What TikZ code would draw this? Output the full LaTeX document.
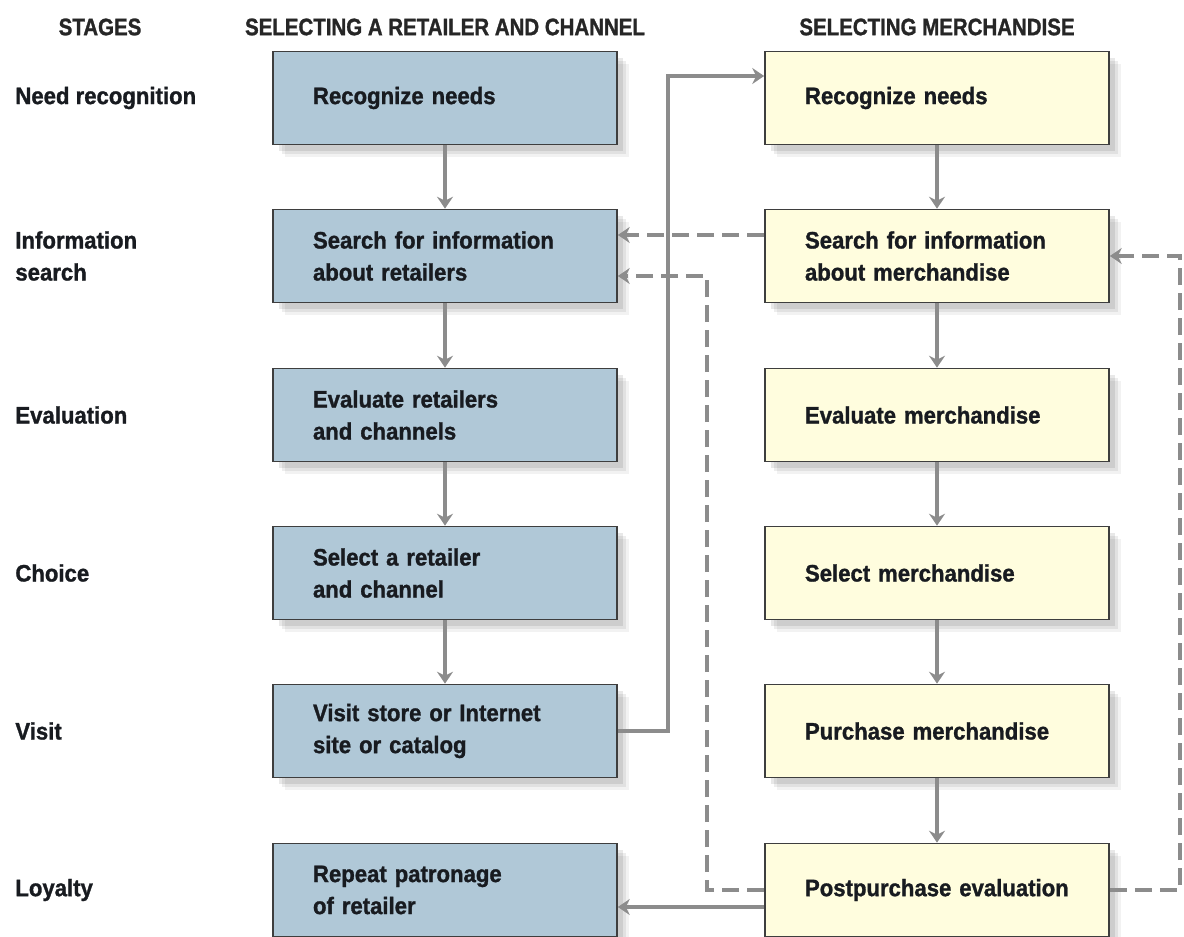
\documentclass[tikz,border=0pt]{standalone}
\usepackage{fontspec}
\setmainfont{Liberation Sans}[FakeStretch=0.93,BoldFeatures={FakeBold=1.2}]
\newfontfamily\headfont{Liberation Sans}[FakeStretch=0.86,BoldFeatures={FakeBold=1.2}]
\usetikzlibrary{arrows.meta}
\usetikzlibrary{shadows}
\definecolor{retblue}{RGB}{176,200,215}
\definecolor{merchyel}{RGB}{255,253,222}
\definecolor{boxline}{RGB}{62,62,62}
\definecolor{arrgray}{RGB}{140,140,140}
\definecolor{inkdark}{RGB}{24,27,32}
\tikzset{stepbox/.style={draw=boxline, line width=0.8pt, minimum height=46.5pt,
   inner xsep=20pt, inner ysep=0pt, text width=132pt, align=left, text=inkdark,
   font=\fontsize{11.9}{16}\selectfont\bfseries,
   drop shadow={shadow xshift=6pt, shadow yshift=-6pt, opacity=0.05, fill=black},
   drop shadow={shadow xshift=4.5pt, shadow yshift=-4.5pt, opacity=0.07, fill=black},
   drop shadow={shadow xshift=3pt, shadow yshift=-3pt, opacity=0.09, fill=black}},
 retbox/.style={stepbox, fill=retblue},
 merbox/.style={stepbox, fill=merchyel},
 stagelbl/.style={anchor=west, align=left, inner sep=0pt, text=inkdark,
   font=\fontsize{11.9}{16}\selectfont\bfseries},
 colhead/.style={font=\headfont\fontsize{11.9}{14}\selectfont\bfseries, text=black!85},
 flowarr/.style={draw=arrgray, line width=2pt, -{Stealth[length=6pt,width=8pt,inset=2pt]}},
 fbarr/.style={flowarr, dash pattern=on 8.5pt off 4pt},
 }

\begin{document}
\begin{tikzpicture}[x=0.5pt,y=-0.5pt]
    \useasboundingbox (0,0) rectangle (1184,937);
    % column heads
    \node[colhead] (hstage) at (100,27) {STAGES};
    \node[colhead] (hret) at (445,27) {SELECTING A RETAILER AND CHANNEL};
    \node[colhead] (hmer) at (937,27) {SELECTING MERCHANDISE};
    % stages
    \node[stagelbl] (s1) at (15,98) {Need recognition};
    \node[stagelbl] (s2) at (15,256) {Information\\search};
    \node[stagelbl] (s3) at (15,415) {Evaluation};
    \node[stagelbl] (s4) at (15,573) {Choice};
    \node[stagelbl] (s5) at (15,731) {Visit};
    \node[stagelbl] (s6) at (15,890) {Loyalty};
    % retailer and channel
    \node[retbox] (r1) at (445,98) {Recognize needs};
    \node[retbox] (r2) at (445,256) {Search for information\\about retailers};
    \node[retbox] (r3) at (445,415) {Evaluate retailers\\and channels};
    \node[retbox] (r4) at (445,573) {Select a retailer\\and channel};
    \node[retbox] (r5) at (445,731) {Visit store or Internet\\site or catalog};
    \node[retbox] (r6) at (445,890) {Repeat patronage\\of retailer};
    % merchandise
    \node[merbox] (m1) at (937,98) {Recognize needs};
    \node[merbox] (m2) at (937,256) {Search for information\\about merchandise};
    \node[merbox] (m3) at (937,415) {Evaluate merchandise};
    \node[merbox] (m4) at (937,573) {Select merchandise};
    \node[merbox] (m5) at (937,731) {Purchase merchandise};
    \node[merbox] (m6) at (937,890) {Postpurchase evaluation};

    \foreach \i/\j in {1/2,2/3,3/4,4/5} {
        \draw[flowarr] (r\i) -- (r\j);
    }
    \foreach \i/\j in {1/2,2/3,3/4,4/5,5/6} {
        \draw[flowarr] (m\i) -- (m\j);
    }

    \coordinate (visitup) at (668,76);
    \coordinate (infoup) at (0,235);
    \coordinate (backturn) at (707,276);
    \coordinate (sideturn) at (1180,256);
    \coordinate (loyal) at (0,907);
    \draw[flowarr] (r5.east) -| (visitup) -- (m1.west |- visitup);
    \draw[fbarr] (m2.west |- infoup) -- (r2.east |- infoup);
    \draw[fbarr] (m6.west) -| (backturn) -- (r2.east |- backturn);
    \draw[fbarr] (m6.east) -| (sideturn) -- (m2.east);
    \draw[flowarr] (m6.west |- loyal) -- (r6.east |- loyal);
\end{tikzpicture}
\end{document}
